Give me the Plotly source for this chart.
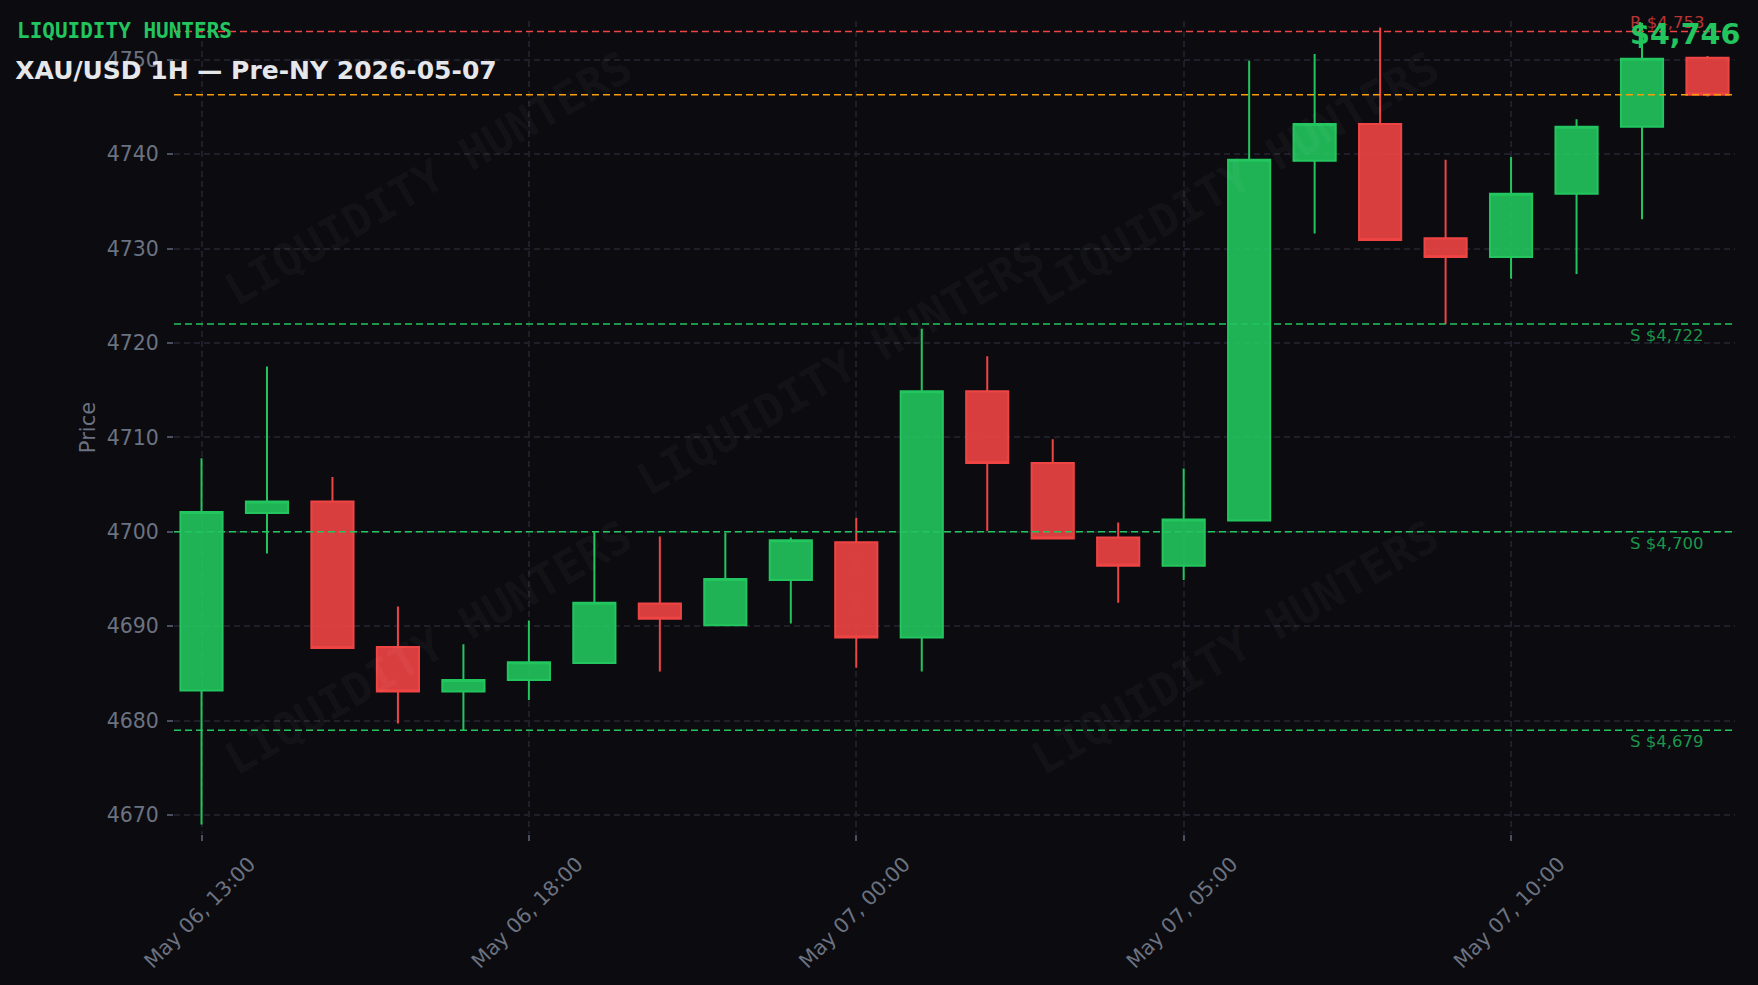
import plotly.graph_objects as go

# ---------------- data ----------------
times = [
    "2026-05-06 13:00", "2026-05-06 14:00", "2026-05-06 15:00", "2026-05-06 16:00",
    "2026-05-06 17:00", "2026-05-06 18:00", "2026-05-06 19:00", "2026-05-06 20:00",
    "2026-05-06 21:00", "2026-05-06 22:00", "2026-05-07 00:00", "2026-05-07 01:00",
    "2026-05-07 02:00", "2026-05-07 03:00", "2026-05-07 04:00", "2026-05-07 05:00",
    "2026-05-07 06:00", "2026-05-07 07:00", "2026-05-07 08:00", "2026-05-07 09:00",
    "2026-05-07 10:00", "2026-05-07 11:00", "2026-05-07 12:00", "2026-05-07 13:00",
]
opens = [4683.2, 4702.0, 4703.2, 4687.8, 4683.1, 4684.3, 4686.1, 4692.4,
         4690.1, 4694.9, 4698.9, 4688.8, 4714.9, 4707.3, 4699.4, 4696.4,
         4701.2, 4739.3, 4743.2, 4731.1, 4729.1, 4735.8, 4742.9, 4750.2]
highs = [4707.8, 4717.5, 4705.8, 4692.1, 4688.1, 4690.6, 4700.1, 4699.5,
         4699.9, 4699.4, 4701.5, 4721.5, 4718.6, 4709.8, 4701.0, 4706.7,
         4749.9, 4750.6, 4753.4, 4739.4, 4739.7, 4743.7, 4753.9, 4750.4]
lows = [4669.0, 4697.7, 4687.7, 4679.7, 4679.0, 4682.2, 4686.1, 4685.2,
        4690.1, 4690.3, 4685.6, 4685.2, 4700.1, 4699.2, 4692.5, 4694.9,
        4701.2, 4731.6, 4730.8, 4722.0, 4726.8, 4727.3, 4733.1, 4746.1]
closes = [4702.1, 4703.2, 4687.7, 4683.1, 4684.3, 4686.2, 4692.5, 4690.8,
          4695.0, 4699.1, 4688.8, 4714.9, 4707.3, 4699.3, 4696.4, 4701.3,
          4739.4, 4743.2, 4730.9, 4729.1, 4735.8, 4742.9, 4750.1, 4746.3]

support_levels = [4722, 4700, 4679]
resistance_levels = [4753]
last_price = closes[-1]

tick_times = ["2026-05-06 13:00", "2026-05-06 18:00", "2026-05-07 00:00",
              "2026-05-07 05:00", "2026-05-07 10:00"]
tick_labels = ["May 06, 13:00", "May 06, 18:00", "May 07, 00:00",
               "May 07, 05:00", "May 07, 10:00"]
y_ticks = [4670, 4680, 4690, 4700, 4710, 4720, 4730, 4740, 4750]

# ---------------- style ----------------
BG = "#0b0b10"
GRID = "#1f1f29"
GREEN = "#22c55e"
RED = "#ef4444"
ORANGE = "#f59e0b"
GRAY = "#6b7280"
TICKC = "#4b5060"
FONT = "DejaVu Sans"
MONO = "DejaVu Sans Mono"

fig = go.Figure()
fig.add_trace(go.Candlestick(
    x=times, open=opens, high=highs, low=lows, close=closes,
    increasing=dict(line=dict(color=GREEN, width=2), fillcolor="rgba(34,197,94,0.9)"),
    decreasing=dict(line=dict(color=RED, width=2), fillcolor="rgba(239,68,68,0.9)"),
    whiskerwidth=0, showlegend=False,
))

shapes = []
annotations = []

# watermark
wm_pos = [(0.163, 0.806), (0.427, 0.573), (0.680, 0.806), (0.163, 0.229), (0.680, 0.229)]
for (wx, wy) in wm_pos:
    annotations.append(dict(
        text="LIQUIDITY HUNTERS", xref="paper", yref="paper", x=wx, y=wy,
        xanchor="center", yanchor="middle", showarrow=False, textangle=-30,
        font=dict(family=MONO, size=45, color="rgba(255,255,255,0.045)", weight="bold"),
    ))

DASH = "7px,4px"
for lvl in resistance_levels:
    shapes.append(dict(type="line", xref="paper", x0=0, x1=1, yref="y", y0=lvl, y1=lvl,
                       line=dict(color=RED, width=1.5, dash=DASH)))
    annotations.append(dict(text=f"R ${lvl:,.0f}", xref="paper", yref="y", x=0.9315, y=lvl,
                            xanchor="left", yanchor="bottom", showarrow=False, yshift=-3,
                            font=dict(family=FONT, size=16.5, color="rgba(239,68,68,0.75)")))
shapes.append(dict(type="line", xref="paper", x0=0, x1=1, yref="y", y0=last_price, y1=last_price,
                   line=dict(color=ORANGE, width=1.5, dash=DASH)))
for lvl in support_levels:
    shapes.append(dict(type="line", xref="paper", x0=0, x1=1, yref="y", y0=lvl, y1=lvl,
                       line=dict(color=GREEN, width=1.5, dash=DASH)))
    annotations.append(dict(text=f"S ${lvl:,.0f}", xref="paper", yref="y", x=0.9315, y=lvl,
                            xanchor="left", yanchor="top", showarrow=False,
                            font=dict(family=FONT, size=16.5, color="rgba(34,197,94,0.75)")))

annotations.append(dict(text=f"${last_price:,.0f}", xref="paper", yref="paper", x=0.9315, y=0.9837,
                        xanchor="left", yanchor="middle", showarrow=False,
                        font=dict(family=FONT, size=28.6, color=GREEN, weight="bold")))
annotations.append(dict(text="LIQUIDITY HUNTERS", xref="paper", yref="paper", x=-0.1017, y=0.9874,
                        xanchor="left", yanchor="middle", showarrow=False,
                        font=dict(family=MONO, size=21, color=GREEN, weight="bold")))

fig.update_layout(
    width=1758, height=985,
    margin=dict(l=174, r=23, t=21, b=144, pad=0),
    paper_bgcolor=BG, plot_bgcolor=BG,
    showlegend=False,
    boxgap=0.3, boxgroupgap=0.08,
    font=dict(family=FONT, size=20.5, color=GRAY),
    title=dict(text="XAU/USD 1H — Pre-NY 2026-05-07", xref="container", yref="container",
               x=0.0087, xanchor="left", y=1 - 70.6 / 985, yanchor="middle",
               font=dict(family=FONT, size=25, color="#e5e7eb", weight="bold")),
    xaxis=dict(type="category", range=[-0.42, 23.42], rangeslider=dict(visible=False),
               tickmode="array", tickvals=tick_times, ticktext=tick_labels, tickangle=-45,
               ticklabelshift=48, ticklabelstandoff=3,
               showgrid=True, gridcolor=GRID, gridwidth=1.5, griddash="6px,4px",
               ticks="outside", ticklen=6, tickwidth=1.5, tickcolor=TICKC,
               showline=False, zeroline=False, tickfont=dict(size=20.5, color=GRAY)),
    yaxis=dict(range=[4668.0, 4754.1], tickmode="array", tickvals=y_ticks,
               ticklabelstandoff=4,
               showgrid=True, gridcolor=GRID, gridwidth=1.5, griddash="6px,4px",
               ticks="outside", ticklen=6, tickwidth=1.5, tickcolor=TICKC,
               showline=False, zeroline=False, tickfont=dict(size=20.5, color=GRAY),
               title=dict(text="Price", font=dict(size=21, color=GRAY), standoff=5)),
    shapes=shapes,
    annotations=annotations,
)

fig.write_html("out.html", config={"displayModeBar": False},
               post_script="document.body.style.margin='0';")
